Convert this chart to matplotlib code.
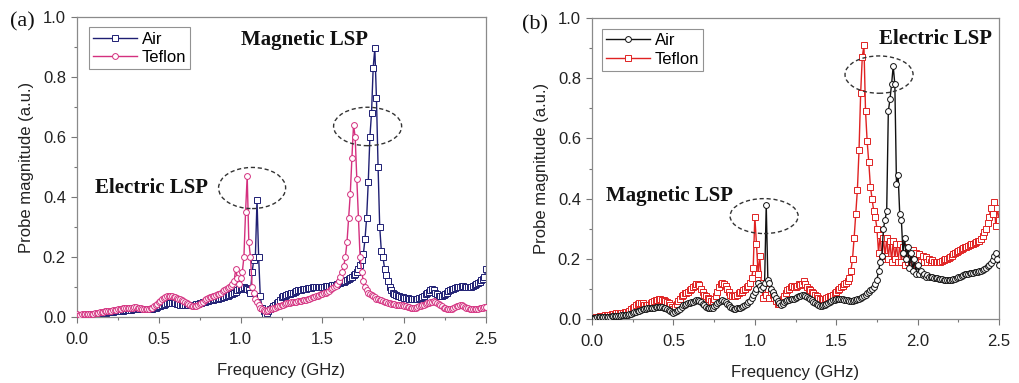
import numpy as np
import matplotlib
matplotlib.use("Agg")
import matplotlib.pyplot as plt
from matplotlib.patches import Ellipse
from matplotlib.ticker import MultipleLocator

plt.rcParams['font.family'] = ['Liberation Sans', 'DejaVu Sans']

# frequency grid (GHz), 0.01 GHz step
freq = np.round(np.arange(0, 251) * 0.01, 2)

# ---- panel (a) ----
air_a = [
    .005, .005, .006, .006, .007, .007, .008, .008, .009, .009,
    .010, .010, .011, .012, .012, .013, .014, .015, .015, .016,
    .017, .018, .018, .019, .020, .020, .021, .022, .022, .023,
    .023, .024, .025, .025, .026, .026, .027, .027, .028, .028,
    .028, .027, .027, .026, .026, .027, .028, .030, .032, .034,
    .036, .038, .040, .042, .044, .046, .047, .048, .048, .047,
    .046, .045, .043, .042, .041, .040, .040, .039, .039, .040,
    .040, .041, .042, .043, .044, .046, .048, .050, .052, .054,
    .055, .056, .057, .058, .060, .061, .062, .064, .065, .066,
    .068, .070, .072, .074, .076, .078, .080, .085, .090, .092,
    .095, .098, .100, .098, .095, .090, .080, .150, .190, .200,
    .390, .200, .070, .030, .020, .012, .015, .020, .026, .032,
    .038, .042, .046, .050, .058, .066, .070, .072, .074, .076,
    .078, .080, .082, .085, .088, .090, .090, .090, .092, .094,
    .095, .096, .097, .098, .099, .100, .100, .100, .100, .100,
    .100, .101, .102, .103, .104, .105, .106, .107, .108, .110,
    .112, .114, .116, .118, .120, .124, .128, .130, .135, .140,
    .145, .150, .160, .175, .190, .210, .260, .330, .450, .600,
    .680, .830, .895, .730, .500, .300, .220, .200, .160, .140,
    .120, .100, .090, .082, .078, .075, .072, .070, .068, .066,
    .065, .064, .063, .062, .061, .060, .060, .061, .062, .063,
    .065, .068, .072, .076, .080, .085, .090, .095, .090, .082,
    .076, .072, .070, .072, .075, .078, .082, .086, .090, .093,
    .095, .097, .099, .100, .101, .102, .102, .101, .100, .100,
    .100, .101, .103, .106, .110, .114, .118, .122, .128, .135,
    .160]

teflon_a = [
    .010, .008, .008, .009, .009, .010, .010, .011, .011, .012,
    .012, .013, .014, .015, .016, .017, .018, .019, .020, .021,
    .022, .022, .023, .024, .025, .026, .027, .028, .029, .030,
    .030, .031, .031, .032, .032, .033, .033, .032, .031, .030,
    .028, .027, .026, .026, .027, .029, .032, .036, .040, .045,
    .050, .055, .060, .064, .068, .070, .071, .071, .070, .068,
    .066, .064, .062, .060, .058, .055, .052, .048, .044, .040,
    .038, .036, .036, .038, .040, .044, .048, .052, .056, .060,
    .063, .066, .068, .070, .072, .074, .076, .078, .082, .086,
    .090, .094, .098, .100, .105, .110, .120, .160, .130, .110,
    .130, .150, .200, .350, .470, .250, .200, .100, .080, .060,
    .050, .040, .032, .028, .025, .022, .022, .024, .026, .028,
    .030, .032, .034, .036, .038, .040, .042, .044, .046, .047,
    .048, .049, .050, .051, .052, .053, .054, .055, .056, .057,
    .058, .060, .062, .064, .066, .068, .070, .072, .074, .076,
    .078, .080, .082, .085, .088, .092, .096, .100, .105, .110,
    .120, .135, .150, .170, .200, .250, .330, .410, .530, .640,
    .600, .460, .330, .200, .150, .120, .100, .090, .082, .078,
    .074, .070, .066, .062, .060, .058, .056, .054, .052, .050,
    .048, .046, .045, .044, .043, .042, .042, .041, .040, .040,
    .038, .036, .034, .033, .032, .031, .031, .032, .034, .036,
    .038, .040, .042, .044, .046, .048, .050, .052, .053, .052,
    .048, .044, .040, .036, .032, .030, .028, .026, .026, .028,
    .030, .033, .036, .038, .040, .040, .038, .035, .032, .030,
    .028, .027, .026, .026, .027, .028, .030, .031, .032, .033,
    .034]

# ---- panel (b) ----
air_b = [
    .005, .005, .005, .006, .006, .006, .007, .007, .007, .008,
    .008, .008, .009, .009, .010, .010, .011, .011, .012, .012,
    .013, .014, .015, .016, .018, .020, .022, .024, .026, .028,
    .030, .032, .034, .035, .036, .036, .037, .038, .038, .039,
    .040, .040, .040, .039, .038, .036, .033, .030, .026, .022,
    .020, .022, .026, .030, .035, .040, .045, .048, .050, .052,
    .054, .056, .058, .060, .062, .062, .060, .056, .050, .045,
    .040, .038, .036, .036, .038, .042, .048, .054, .058, .060,
    .062, .060, .056, .050, .045, .040, .037, .035, .035, .036,
    .037, .038, .040, .042, .045, .050, .055, .060, .070, .080,
    .090, .100, .120, .110, .100, .105, .120, .380, .130, .120,
    .100, .090, .080, .070, .060, .052, .048, .050, .055, .060,
    .062, .064, .065, .066, .068, .070, .072, .075, .078, .080,
    .080, .078, .074, .070, .066, .062, .058, .054, .050, .046,
    .044, .044, .046, .048, .050, .053, .056, .059, .062, .064,
    .065, .066, .066, .066, .065, .064, .063, .062, .060, .060,
    .060, .062, .064, .066, .068, .070, .073, .076, .080, .085,
    .090, .095, .100, .105, .115, .130, .160, .190, .210, .300,
    .330, .360, .690, .730, .780, .840, .780, .450, .480, .350,
    .330, .220, .270, .200, .240, .170, .220, .160, .200, .150,
    .180, .150, .160, .145, .150, .140, .145, .140, .140, .138,
    .137, .136, .135, .134, .133, .132, .131, .130, .130, .130,
    .130, .131, .132, .134, .136, .138, .140, .143, .146, .148,
    .150, .151, .152, .153, .154, .155, .156, .157, .158, .160,
    .162, .166, .170, .175, .180, .185, .195, .210, .220, .200,
    .180]

teflon_b = [
    .005, .006, .006, .007, .008, .009, .010, .011, .012, .013,
    .014, .015, .016, .017, .018, .019, .020, .020, .020, .021,
    .022, .023, .025, .028, .032, .036, .040, .045, .050, .053,
    .054, .052, .048, .045, .045, .048, .052, .056, .060, .062,
    .064, .066, .066, .064, .062, .060, .058, .052, .045, .040,
    .035, .040, .050, .060, .068, .075, .080, .085, .088, .090,
    .095, .100, .105, .110, .115, .118, .112, .100, .090, .080,
    .075, .070, .065, .060, .060, .065, .075, .090, .105, .115,
    .120, .115, .110, .100, .090, .080, .075, .075, .075, .080,
    .085, .090, .090, .095, .100, .105, .110, .120, .135, .170,
    .340, .250, .150, .210, .120, .070, .100, .080, .100, .070,
    .090, .080, .070, .060, .050, .050, .055, .065, .075, .085,
    .095, .100, .105, .110, .108, .105, .110, .115, .112, .118,
    .125, .115, .105, .100, .095, .090, .085, .080, .075, .070,
    .068, .066, .066, .068, .070, .072, .075, .078, .080, .085,
    .090, .095, .100, .105, .110, .115, .120, .128, .135, .160,
    .200, .270, .350, .430, .560, .750, .870, .910, .690, .590,
    .520, .440, .400, .360, .340, .300, .220, .280, .200, .270,
    .210, .270, .200, .260, .190, .260, .200, .250, .190, .250,
    .190, .240, .180, .240, .190, .230, .180, .230, .190, .220,
    .190, .215, .190, .210, .190, .205, .190, .200, .190, .195,
    .190, .190, .188, .188, .190, .192, .195, .198, .200, .202,
    .205, .210, .215, .220, .222, .225, .228, .232, .235, .240,
    .240, .242, .245, .248, .250, .252, .255, .258, .260, .265,
    .275, .290, .300, .320, .340, .370, .350, .390, .310, .370,
    .330]

x_ticks = [0.0, 0.5, 1.0, 1.5, 2.0, 2.5]
y_ticks = [0.0, 0.2, 0.4, 0.6, 0.8, 1.0]

navy = '#1f1f73'
magenta = '#d4307f'
black = '#111111'
red = '#e02222'

fig = plt.figure(figsize=(10.19, 3.83), dpi=100)
ax1 = fig.add_axes([0.0756, 0.172, 0.4014, 0.784])
ax2 = fig.add_axes([0.581, 0.167, 0.3994, 0.786])

common = dict(lw=1.0, markersize=4.2, markerfacecolor='white', markeredgewidth=0.7)

ax1.plot(freq, air_a, color=navy, marker='s', label='Air', zorder=2, **common)
ax1.plot(freq, teflon_a, color=magenta, marker='o', label='Teflon', zorder=3, **common)

ax2.plot(freq, teflon_b, color=red, marker='s', label='Teflon', zorder=2, **common)
ax2.plot(freq, air_b, color=black, marker='o', label='Air', zorder=3, **common)

for ax in (ax1, ax2):
    ax.set_xlim(0, 2.5)
    ax.set_ylim(0, 1.0)
    ax.set_xticks(x_ticks)
    ax.set_yticks(y_ticks)
    ax.set_xticklabels([f'{t:.1f}' for t in x_ticks])
    ax.set_yticklabels([f'{t:.1f}' for t in y_ticks])
    ax.xaxis.set_minor_locator(MultipleLocator(0.25))
    ax.yaxis.set_minor_locator(MultipleLocator(0.1))
    ax.tick_params(which='both', direction='out', top=False, right=False,
                   color='#777777', labelsize=12, labelcolor='#222222')
    ax.tick_params(which='major', length=4, width=0.8)
    ax.tick_params(axis='x', which='major', pad=7)
    ax.tick_params(axis='y', which='major', pad=4)
    ax.tick_params(which='minor', length=2.5, width=0.8)
    for s in ax.spines.values():
        s.set_color('#8a8a8a')
        s.set_linewidth(0.9)
    ax.set_xlabel('Frequency (GHz)', fontsize=12, color='#222222', labelpad=11)
    ax.set_ylabel('Probe magnitude (a.u.)', fontsize=12, color='#222222', labelpad=6)

# legends
h1, l1 = ax1.get_legend_handles_labels()
leg1 = ax1.legend(h1, l1, loc='upper left', bbox_to_anchor=(0.03, 0.965), borderaxespad=0,
                  fontsize=12, frameon=True, fancybox=False, handlelength=2.6,
                  handletextpad=0.3, borderpad=0.25, labelspacing=0.2, markerscale=1.0)
leg1.get_frame().set_edgecolor('#777777')
leg1.get_frame().set_linewidth(0.8)

h2, l2 = ax2.get_legend_handles_labels()
leg2 = ax2.legend([h2[1], h2[0]], [l2[1], l2[0]], loc='upper left', bbox_to_anchor=(0.025, 0.963),
                  borderaxespad=0, fontsize=12, frameon=True, fancybox=False, handlelength=2.6,
                  handletextpad=0.3, borderpad=0.25, labelspacing=0.2)
leg2.get_frame().set_edgecolor('#777777')
leg2.get_frame().set_linewidth(0.8)

# ellipses & annotations
ell_kw = dict(fill=False, edgecolor='#333333', lw=1.0, linestyle=(0, (3, 2)), zorder=5)
ax1.add_patch(Ellipse((1.07, 0.43), 0.41, 0.137, **ell_kw))
ax1.add_patch(Ellipse((1.776, 0.635), 0.416, 0.128, **ell_kw))
ax2.add_patch(Ellipse((1.057, 0.342), 0.418, 0.116, **ell_kw))
ax2.add_patch(Ellipse((1.763, 0.812), 0.418, 0.124, **ell_kw))

ann = dict(fontsize=15, fontweight='bold', family=['Liberation Serif', 'DejaVu Serif'],
           va='center', ha='left', color='#111111')
ax1.text(1.0, 0.923, 'Magnetic LSP', **ann)
ax1.text(0.11, 0.43, 'Electric LSP', **ann)
ax2.text(1.763, 0.93, 'Electric LSP', **ann)
ax2.text(0.086, 0.41, 'Magnetic LSP', **ann)

fig.text(10 / 1019, 1 - 22 / 383, '(a)', fontsize=16, family=['Liberation Serif', 'DejaVu Serif'],
         va='center', ha='left', color='#111111')
fig.text(522 / 1019, 1 - 25 / 383, '(b)', fontsize=16, family=['Liberation Serif', 'DejaVu Serif'],
         va='center', ha='left', color='#111111')

fig.savefig('out.png', dpi=100)
